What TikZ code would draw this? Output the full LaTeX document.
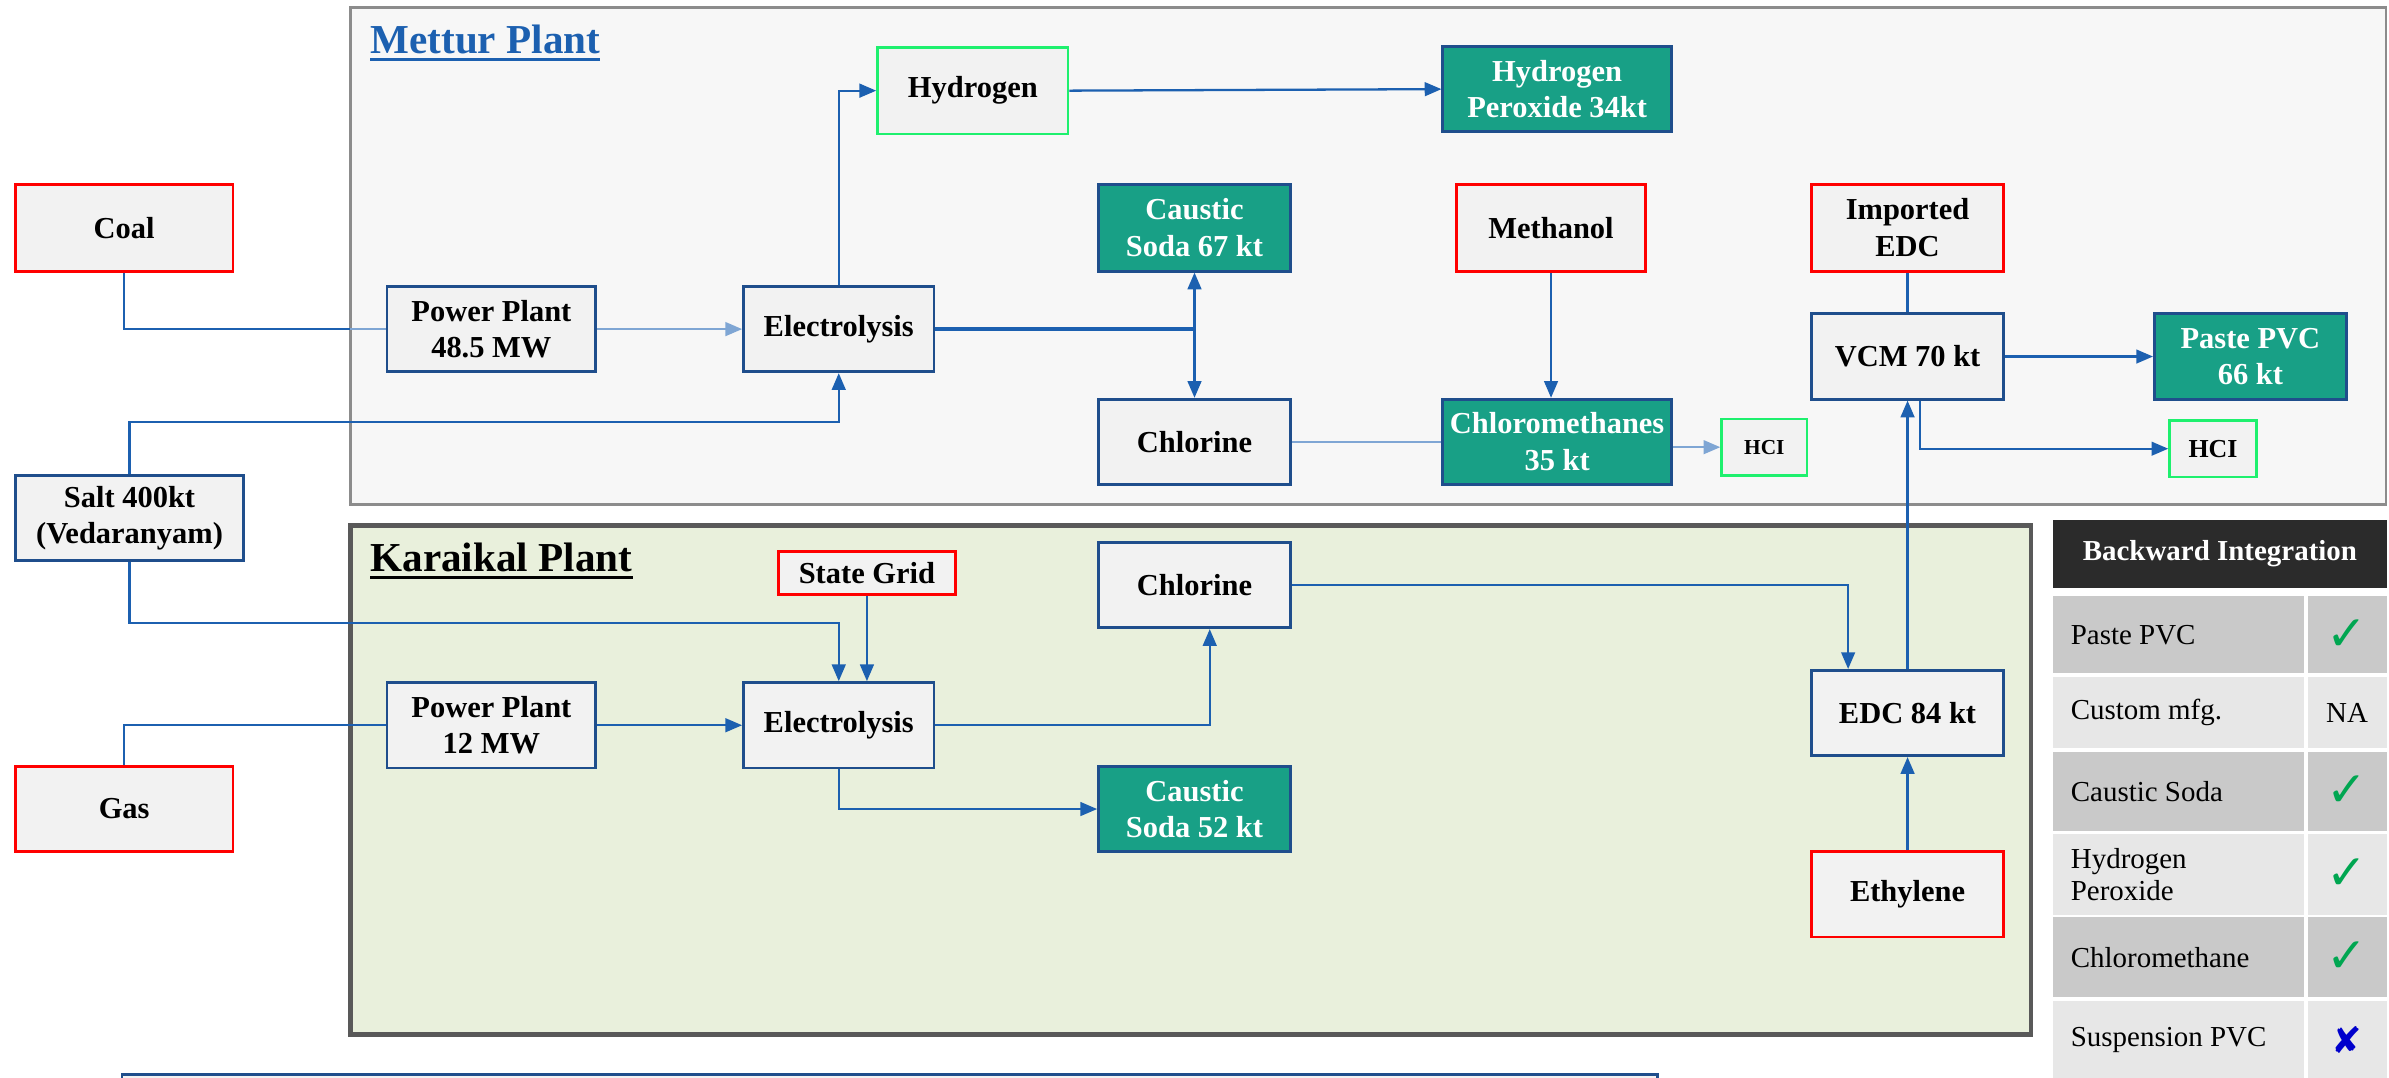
\documentclass[tikz,border=0pt]{standalone}
\usepackage{fontspec}
\setmainfont{Liberation Serif}
\newfontfamily\symbolfont{DejaVu Sans}
\usetikzlibrary{arrows.meta,calc}
\definecolor{cFlow}{RGB}{28,96,176}
\definecolor{cFaint}{RGB}{127,166,212}
\definecolor{cEdge}{RGB}{31,78,140}
\definecolor{cRaw}{RGB}{255,0,0}
\definecolor{cOut}{RGB}{30,240,110}
\definecolor{cProd}{RGB}{24,160,134}
\definecolor{cBox}{RGB}{242,242,242}
\definecolor{cMettur}{RGB}{247,247,247}
\definecolor{cKaraikal}{RGB}{233,240,220}
\definecolor{cHead}{RGB}{43,43,43}
\definecolor{cRowDark}{RGB}{201,201,201}
\definecolor{cRowLight}{RGB}{231,231,231}
\definecolor{cTick}{RGB}{0,166,81}
\definecolor{cCross}{RGB}{0,0,204}
\newcommand{\biTick}{{\symbolfont\fontsize{32}{32}\selectfont\textcolor{cTick}{✓}}}
\newcommand{\biCross}{{\symbolfont\fontsize{24}{24}\selectfont\textcolor{cCross}{✘}}}

\tikzset{
  unit/.style={draw, line width=1.8pt, fill=cBox, inner sep=0pt, align=center,
    font=\fontsize{20}{24}\selectfont\bfseries},
  dims/.style 2 args={minimum width=#1pt, minimum height=#2pt},
  rawbox/.style={unit, draw=cRaw},
  procbox/.style={unit, draw=cEdge},
  prodbox/.style={unit, draw=cEdge, fill=cProd, text=white},
  sidebox/.style={unit, draw=cOut},
  link/.style={draw=cFlow, line width=1.5pt},
  faint/.style={draw=cFaint, line width=1.5pt},
  flow/.style={link, -{Triangle[length=11pt,width=9pt]}},
  faintflow/.style={faint, -{Triangle[length=11pt,width=9pt]}},
  title/.style={anchor=base west, inner sep=0pt, font=\fontsize{27}{32}\selectfont\bfseries},
}

\begin{document}
\begin{tikzpicture}[x=1pt, y=-1pt]
\useasboundingbox[fill=white] (0,0) rectangle (1568,707);
% plant frames
\draw[fill=cMettur, draw=black!45, line width=1.8pt] (230,5) rectangle (1566,331);
\draw[fill=cKaraikal, draw=black!65, line width=3pt] (230,345) rectangle (1333,679);
\draw[fill=cBox, draw=cEdge, line width=1.8pt] (80,705) rectangle (1088,760);
\node[title, text=cFlow] (mtitle) at (243,35) {Mettur Plant};
\draw[cFlow, line width=2.2pt] ($(mtitle.base west)+(0,4)$) -- ($(mtitle.base east)+(0,4)$);
\node[title] (ktitle) at (243,375) {Karaikal Plant};
\draw[line width=2.2pt] ($(ktitle.base west)+(0,4)$) -- ($(ktitle.base east)+(0,4)$);

% raw materials outside
\node[rawbox, dims={143}{57}] (coal) at (81.5,149.5) {Coal};
\node[procbox, dims={150}{56}] (salt) at (85,340) {Salt 400kt\\(Vedaranyam)};
\node[rawbox, dims={143}{56}] (gas) at (81.5,531) {Gas};

% Mettur
\node[procbox, dims={137}{56}] (pp1) at (322.5,216) {Power Plant\\48.5 MW};
\node[procbox, dims={125}{56}] (el1) at (550.5,216) {Electrolysis};
\node[sidebox, dims={125}{57}] (hyd) at (638.5,59.5) {Hydrogen};
\node[prodbox, dims={150}{56}] (hp) at (1022,58.5) {Hydrogen\\Peroxide 34kt};
\node[prodbox, dims={126}{57}] (cs1) at (784,149.5) {Caustic\\Soda 67 kt};
\node[procbox, dims={126}{56}] (cl1) at (784,290) {Chlorine};
\node[rawbox, dims={124}{57}] (meth) at (1018,149.5) {Methanol};
\node[prodbox, dims={150}{56}] (cm) at (1022,290) {Chloromethanes\\35 kt};
\node[sidebox, dims={56}{37}, font=\fontsize{14}{16}\selectfont\bfseries] (hcl1) at (1158,293.5) {HCI};
\node[rawbox, dims={126}{57}] (iedc) at (1252,149.5) {Imported\\EDC};
\node[procbox, dims={126}{56}] (vcm) at (1252,234) {VCM 70 kt};
\node[prodbox, dims={126}{56}] (ppvc) at (1477,234) {Paste PVC\\66 kt};
\node[sidebox, dims={57}{37}, font=\fontsize{17}{20}\selectfont\bfseries] (hcl2) at (1452.5,294.5) {HCI};

% Karaikal
\node[rawbox, dims={116}{28}] (grid) at (569,376) {State Grid};
\node[procbox, dims={126}{56}] (cl2) at (784,384) {Chlorine};
\node[procbox, dims={137}{56}] (pp2) at (322.5,476) {Power Plant\\12 MW};
\node[procbox, dims={125}{56}] (el2) at (550.5,476) {Electrolysis};
\node[prodbox, dims={126}{56}] (cs2) at (784,531) {Caustic\\Soda 52 kt};
\node[procbox, dims={126}{56}] (edc) at (1252,468) {EDC 84 kt};
\node[rawbox, dims={126}{56}] (eth) at (1252,587) {Ethylene};

% connectors, Mettur
\coordinate (medge) at (230,216);
\draw[link] (coal.south) |- (medge);
\draw[faint] (medge) -- (pp1.west);
\draw[flow] (salt.north) -- ++(0,-34) -| (el1.south);
\draw[faintflow] (pp1.east) -- (el1.west);
\draw[flow] (el1.north) |- (hyd.west);
\draw[flow] (hyd.east) -- (hp.west);
\coordinate (j1) at (el1.east -| cs1.south);
\draw[link, line width=3pt] (el1.east) -- (j1);
\draw[flow] (j1) -- (cs1.south);
\draw[flow] (j1) -- (cl1.north);
\draw[flow] (meth.south) -- (meth.south |- cm.north);
\draw[faint] (cl1.east) -- (cm.west);
\draw[faintflow] (cm.east |- hcl1.west) -- (hcl1.west);
\draw[link] (iedc.south) -- (vcm.north);
\draw[flow] (vcm.east) -- (ppvc.west);
\draw[flow] ($(vcm.south)+(8,0)$) |- (hcl2.west);
\draw[flow] (edc.north) -- (vcm.south);

% connectors, Karaikal
\draw[flow] (salt.south) -- ++(0,40) -| (el2.north);
\draw[flow] (grid.south) -- (grid.south |- el2.north);
\draw[link] (gas.north) |- (pp2.west);
\draw[flow] (pp2.east) -- (el2.west);
\draw[flow] (el2.east) -| ($(cl2.south)+(10,0)$);
\draw[flow] (el2.south) |- (cs2.west);
\draw[flow] (cl2.east) -| ($(edc.north)+(-39,0)$);
\draw[flow] (eth.north) -- (edc.south);

% backward integration table
\fill[cHead] (1347.5,341.4) rectangle (1566.6,386.1);
\node[text=white, font=\fontsize{19}{22}\selectfont\bfseries] (bihead) at (1457,363.7) {Backward Integration};
\foreach \top/\bot/\item/\mark/\shade [count=\r] in {
  391.4/442.0/{Paste PVC}/\biTick/cRowDark,
  444.5/491.1/{Custom mfg.}/NA/cRowLight,
  493.5/545.3/{Caustic Soda}/\biTick/cRowDark,
  547.3/600.4/{Hydrogen\\Peroxide}/\biTick/cRowLight,
  602.0/654.5/{Chloromethane}/\biTick/cRowDark,
  656.8/709/{Suspension PVC}/\biCross/cRowLight} {
  \fill[\shade] (1347.5,\top) rectangle (1512,\bot);
  \fill[\shade] (1515,\top) rectangle (1566.6,\bot);
  \node[anchor=west, align=left, inner sep=0pt, font=\fontsize{19}{21}\selectfont] (row\r) at (1359,{(\top+\bot)/2}) {\item};
  \node[inner sep=0pt, font=\fontsize{19}{21}\selectfont] (mark\r) at (1540.5,{(\top+\bot)/2}) {\mark};
}
\end{tikzpicture}
\end{document}
